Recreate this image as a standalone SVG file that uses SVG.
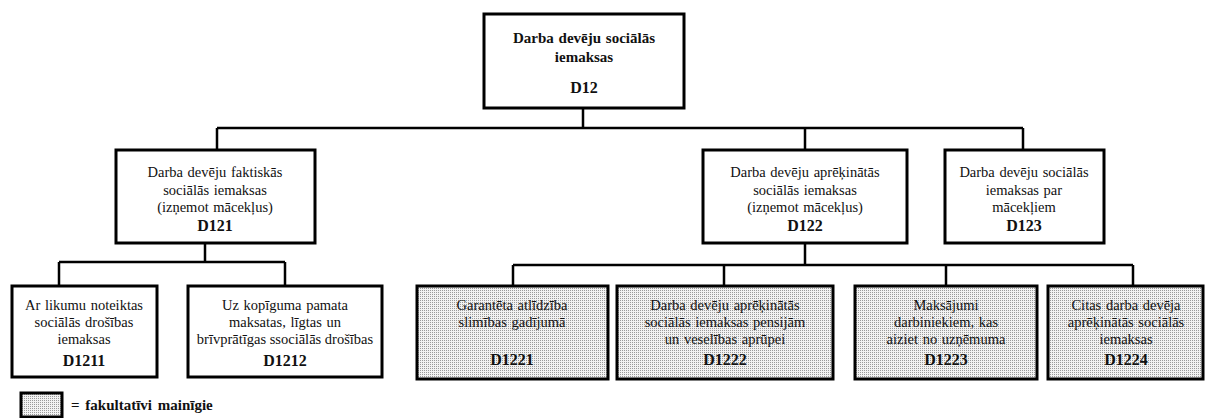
<svg xmlns="http://www.w3.org/2000/svg" width="1205" height="418" viewBox="0 0 1205 418" font-family="'Liberation Serif', 'DejaVu Serif', serif">
<defs>
<pattern id="dots" width="2" height="2" patternUnits="userSpaceOnUse">
<rect width="2" height="2" fill="#f2f2f2"/>
<rect width="1" height="1" fill="#9a9a9a"/>
</pattern>
<style>
.box{fill:#fff;stroke:#000;stroke-width:3}
.opt{fill:url(#dots);stroke:#000;stroke-width:3}
.ln{fill:none;stroke:#000;stroke-width:2.5}
text{font-family:'Liberation Serif','DejaVu Serif',serif;font-size:14.5px;fill:#111;text-anchor:middle;word-spacing:1px}
.b{font-weight:bold;font-size:15px}
.c{font-weight:bold;font-size:16px}
</style>
</defs>
<g id="connectors">
<path class="ln" d="M583,108V128M217,128H1023M217,128V150M805,128V150M1023,128V150"/>
<path class="ln" d="M205,243V262M59,262H285M59,262V286M285,262V286"/>
<path class="ln" d="M805,243V265M513,265H1133M513,265V286M724,265V286M946,265V286M1133,265V286"/>
</g>
<g id="D12">
<rect class="box" x="484" y="14" width="200" height="94"/>
<text class="b" x="584" y="43">Darba devēju sociālās</text>
<text class="b" x="584" y="62">iemaksas</text>
<text class="c" x="584" y="93">D12</text>
</g>
<g id="D121">
<rect class="box" x="116" y="150" width="199" height="93"/>
<text x="215" y="177">Darba devēju faktiskās</text>
<text x="215" y="195">sociālās iemaksas</text>
<text x="215" y="212">(izņemot mācekļus)</text>
<text class="c" x="215" y="231">D121</text>
</g>
<g id="D122">
<rect class="box" x="703" y="150" width="204" height="93"/>
<text x="805" y="177">Darba devēju aprēķinātās</text>
<text x="805" y="195">sociālās iemaksas</text>
<text x="805" y="212">(izņemot mācekļus)</text>
<text class="c" x="805" y="231">D122</text>
</g>
<g id="D123">
<rect class="box" x="945" y="150" width="159" height="93"/>
<text x="1024" y="177">Darba devēju sociālās</text>
<text x="1024" y="195">iemaksas par</text>
<text x="1024" y="212">mācekļiem</text>
<text class="c" x="1024" y="231">D123</text>
</g>
<g id="D1211">
<rect class="box" x="12" y="286" width="145" height="91"/>
<text x="84" y="310">Ar likumu noteiktas</text>
<text x="84" y="327">sociālās drošības</text>
<text x="84" y="344">iemaksas</text>
<text class="c" x="84" y="366">D1211</text>
</g>
<g id="D1212">
<rect class="box" x="188" y="286" width="194" height="91"/>
<text x="285" y="310">Uz kopīguma pamata</text>
<text x="285" y="327">maksatas, līgtas un</text>
<text x="285" y="344" style="word-spacing:0">brīvprātīgas ssociālās drošības</text>
<text class="c" x="285" y="366">D1212</text>
</g>
<g id="D1221">
<rect class="opt" x="417" y="286" width="191" height="93"/>
<text x="512" y="310">Garantēta atlīdzība</text>
<text x="512" y="327">slimības gadījumā</text>
<text class="c" x="512" y="365">D1221</text>
</g>
<g id="D1222">
<rect class="opt" x="617" y="286" width="216" height="93"/>
<text x="725" y="310">Darba devēju aprēķinātās</text>
<text x="725" y="327">sociālās iemaksas pensijām</text>
<text x="725" y="344">un veselības aprūpei</text>
<text class="c" x="725" y="365">D1222</text>
</g>
<g id="D1223">
<rect class="opt" x="855" y="286" width="182" height="93"/>
<text x="946" y="310">Maksājumi</text>
<text x="946" y="327">darbiniekiem, kas</text>
<text x="946" y="344">aiziet no uzņēmuma</text>
<text class="c" x="946" y="365">D1223</text>
</g>
<g id="D1224">
<rect class="opt" x="1048" y="286" width="155" height="93"/>
<text x="1126" y="310">Citas darba devēja</text>
<text x="1126" y="327">aprēķinātās sociālās</text>
<text x="1126" y="344">iemaksas</text>
<text class="c" x="1126" y="365">D1224</text>
</g>
<g id="legend">
<rect class="opt" x="21" y="393" width="41" height="24" stroke-width="2.5"/>
<text class="b" x="71" y="410" style="text-anchor:start;word-spacing:2px">= fakultatīvi mainīgie</text>
</g>
</svg>
